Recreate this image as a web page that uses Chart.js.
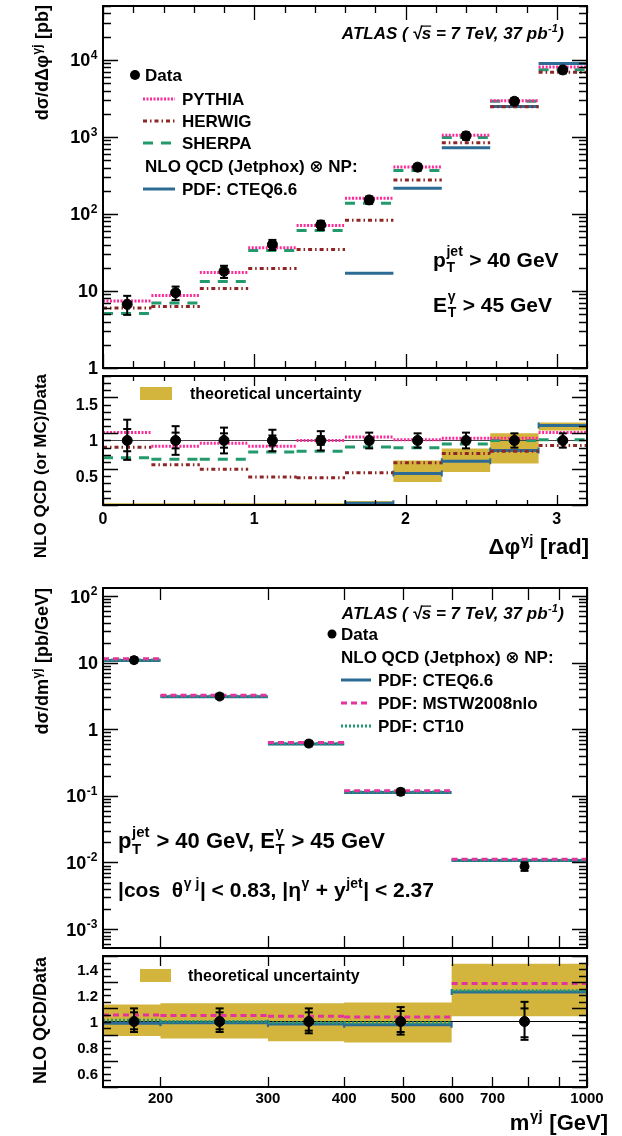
<!DOCTYPE html>
<html>
<head>
<meta charset="utf-8">
<script src="https://cdn.jsdelivr.net/npm/chart.js@4/dist/chart.umd.min.js"></script>
<style>
  html, body { margin: 0; padding: 0; background: #fff; }
  #page { position: relative; width: 622px; height: 1136px; overflow: hidden; }
  canvas { position: absolute; left: 0; }
</style>
</head>
<body>
<div id="page">
  <canvas id="phiMain" width="622" height="385" style="top:0px"></canvas>
  <canvas id="phiRatio" width="622" height="190" style="top:370px"></canvas>
  <canvas id="massMain" width="622" height="385" style="top:575px"></canvas>
  <canvas id="massRatio" width="622" height="186" style="top:950px"></canvas>
</div>
<script>
// ---------- Δφ(γ,jet) distribution ----------
var phiEdges   = [0, 0.32, 0.64, 0.96, 1.28, 1.60, 1.92, 2.24, 2.56, 2.88, 3.20];
var phiCenters = [0.16, 0.48, 0.80, 1.12, 1.44, 1.76, 2.08, 2.40, 2.72, 3.04];

// dσ/dΔφ [pb]
var phiData   = [6.7, 9.5, 18, 40, 72, 152, 405, 1030, 2900, 7400];
var phiPythia = [7.4, 8.7, 17.3, 36.5, 71, 160, 408, 1050, 2950, 8100];
var phiHerwig = [6.0, 6.3, 10.8, 19.6, 34.5, 83, 276, 840, 2470, 6900];
var phiSherpa = [5.1, 7.0, 13.3, 33.6, 61, 138, 365, 980, 2900, 7450];
var phiCteq   = [null, null, null, null, null, 17, 216, 725, 2480, 8950];

// ratios to data
var phiErrHi    = [1.29, 1.20, 1.18, 1.15, 1.13, 1.11, 1.10, 1.11, 1.10, 1.10];
var phiErrLo    = [0.73, 0.80, 0.82, 0.85, 0.86, 0.89, 0.90, 0.89, 0.90, 0.90];
var phiStatHi   = [1.16, 1.11, 1.10, 1.07, 1.06, 1.04, 1.03, 1.03, 1.02, 1.02];
var phiStatLo   = [0.85, 0.89, 0.90, 0.93, 0.94, 0.96, 0.97, 0.97, 0.98, 0.98];
var phiPythiaR  = [1.11, 0.92, 0.96, 0.92, 1.00, 1.05, 1.01, 1.03, 1.03, 1.11];
var phiHerwigR  = [0.905, 0.66, 0.60, 0.49, 0.48, 0.55, 0.69, 0.82, 0.85, 0.93];
var phiSherpaR  = [0.76, 0.74, 0.74, 0.84, 0.85, 0.91, 0.90, 0.95, 1.00, 1.01];
var phiCteqR    = [0, 0, 0, 0, 0, 0.125, 0.54, 0.71, 0.86, 1.21];
var phiBandLo   = [0, 0, 0, 0, 0, 0.10, 0.42, 0.56, 0.68, 1.14];
var phiBandHi   = [0.125, 0.125, 0.125, 0.125, 0.125, 0.155, 0.72, 0.89, 1.10, 1.25];

// ---------- m(γ,jet) distribution ----------
var massEdges   = [161, 200, 300, 400, 600, 1000];
var massCenters = [181, 250, 350, 495, 790];

// dσ/dm [pb/GeV]
var massData = [10.9, 3.1, 0.61, 0.115, 0.0087];
var massCteq = [10.8, 3.08, 0.60, 0.112, 0.0107];
var massMstw = [11.4, 3.25, 0.635, 0.119, 0.0112];
var massCt10 = [11.0, 3.12, 0.605, 0.114, 0.0108];

// ratios to data
var massErrHi  = [1.10, 1.10, 1.10, 1.11, 1.15];
var massErrLo  = [0.92, 0.92, 0.91, 0.90, 0.86];
var massStatHi = [1.07, 1.07, 1.07, 1.08, 1.10];
var massStatLo = [0.94, 0.94, 0.93, 0.92, 0.88];
var massCteqR  = [0.987, 0.99, 0.98, 0.975, 1.225];
var massMstwR  = [1.05, 1.045, 1.04, 1.035, 1.29];
var massCt10R  = [1.01, 1.0, 0.99, 0.99, 1.235];
var massBandLo = [0.89, 0.87, 0.85, 0.84, 1.04];
var massBandHi = [1.13, 1.14, 1.14, 1.145, 1.44];

// Colours
var colPythia = '#ff2a9a';
var colHerwig = '#8e2626';
var colSherpa = '#229a6c';
var colCteq   = '#2c6c94';
var colMstw   = '#e2349c';
var colCt10   = '#1f9a70';
var colBand   = '#d3b43c';

// ---------- helpers ----------

function binSegments(edges, vals) {
  var pts = [];
  vals.forEach(function (v, i) {
    if (v === null) return;
    pts.push({x: edges[i], y: v}, {x: edges[i + 1], y: v}, {x: edges[i + 1], y: null});
  });
  return pts;
}

function bandPoints(edges, vals) {
  var pts = [];
  vals.forEach(function (v, i) { pts.push({x: edges[i], y: v}, {x: edges[i + 1], y: v}); });
  return pts;
}

function errSegments(xs, lo, hi) {
  var pts = [];
  xs.forEach(function (x, i) { pts.push({x: x, y: lo[i]}, {x: x, y: hi[i]}, {x: x, y: null}); });
  return pts;
}

function capPoints(xs, lo, hi) {
  var pts = [];
  xs.forEach(function (x, i) { pts.push({x: x, y: lo[i]}, {x: x, y: hi[i]}); });
  return pts;
}

function scaled(vals, rel) {
  return vals.map(function (v, i) { return v * rel[i]; });
}

function stepLine(label, edges, vals, color, dash, order) {
  return {
    label: label, data: binSegments(edges, vals), showLine: true,
    borderColor: color, borderWidth: 3, borderDash: dash, pointRadius: 0, order: order
  };
}

function points(xs, vals, r) {
  return {
    label: 'Data', data: xs.map(function (x, i) { return {x: x, y: vals[i]}; }),
    showLine: false, pointRadius: r, pointStyle: 'circle',
    backgroundColor: '#000', borderColor: '#000', order: 0
  };
}

function errorBars(xs, lo, hi) {
  return {
    label: 'err', data: errSegments(xs, lo, hi), showLine: true,
    borderColor: '#000', borderWidth: 2, pointStyle: 'line', pointRadius: 4,
    pointBorderWidth: 2, pointBorderColor: '#000', order: 1
  };
}

function innerCaps(xs, lo, hi) {
  return {
    label: 'stat', data: capPoints(xs, lo, hi), showLine: false,
    pointStyle: 'line', pointRadius: 4, pointBorderWidth: 2, pointBorderColor: '#000', order: 1
  };
}

function band(edges, lo, hi) {
  return [
    {label: 'bandHi', data: bandPoints(edges, hi), showLine: true, borderWidth: 0,
     borderColor: 'rgba(0,0,0,0)', pointRadius: 0, backgroundColor: colBand, fill: '+1', order: 9},
    {label: 'bandLo', data: bandPoints(edges, lo), showLine: true, borderWidth: 0,
     borderColor: 'rgba(0,0,0,0)', pointRadius: 0, order: 9}
  ];
}

function unityLine(x0, x1, color) {
  return {label: 'one', data: [{x: x0, y: 1}, {x: x1, y: 1}], showLine: true,
          borderColor: color, borderWidth: 1.2, pointRadius: 0, order: 5};
}

function linTicks(lo, hi, step, every) {
  var major = [], minor = [];
  var n = Math.round((hi - lo) / step);
  for (var i = 0; i <= n; i++) {
    var v = +(lo + i * step).toFixed(4);
    if (i % every === 0) major.push(v); else minor.push(v);
  }
  return {major: major, minor: minor};
}

function logTicks(lo, hi) {
  var major = [], minor = [];
  for (var k = Math.floor(Math.log10(lo)); k <= Math.ceil(Math.log10(hi)); k++) {
    var d = Math.pow(10, k);
    if (d >= lo && d <= hi) major.push(d);
    for (var m = 2; m <= 9; m++) { if (m * d >= lo && m * d <= hi) minor.push(m * d); }
  }
  return {major: major, minor: minor};
}

// ---------- text ----------

function fontOf(size, italic) {
  return (italic ? 'italic ' : '') + 'bold ' + size + 'px "Liberation Sans", "DejaVu Sans", sans-serif';
}

function pieceWidth(ctx, s, size, italic) {
  if (typeof s === 'string') { ctx.font = fontOf(size, italic); return ctx.measureText(s).width; }
  if (s.ov) { ctx.font = fontOf(size, italic); return ctx.measureText(s.ov).width; }
  ctx.font = fontOf(Math.round(size * 0.66), italic);
  var a = s.sup ? ctx.measureText(s.sup).width : 0;
  var b = s.sub ? ctx.measureText(s.sub).width : 0;
  return Math.max(a, b) + size * 0.06;
}

function richWidth(ctx, segs, size, italic) {
  var w = 0;
  segs.forEach(function (s) { w += pieceWidth(ctx, s, size, italic); });
  return w;
}

// cy is the middle of the capitals
function drawRich(ctx, segs, x, cy, size, align, italic) {
  var w = richWidth(ctx, segs, size, italic);
  var cx = align === 'right' ? x - w : (align === 'center' ? x - w / 2 : x);
  var base = cy + size * 0.36;
  ctx.textAlign = 'left';
  ctx.textBaseline = 'alphabetic';
  ctx.fillStyle = '#000';
  segs.forEach(function (s) {
    var pw = pieceWidth(ctx, s, size, italic);
    if (typeof s === 'string') {
      ctx.font = fontOf(size, italic);
      ctx.fillText(s, cx, base);
    } else if (s.ov) {
      ctx.font = fontOf(size, italic);
      ctx.fillText(s.ov, cx, base);
      ctx.fillRect(cx - 1, base - size * 0.8, pw + 1, Math.max(1, size * 0.07));
    } else {
      var small = Math.round(size * 0.66);
      ctx.font = fontOf(small, italic);
      var both = s.sup && s.sub;
      if (s.sup) ctx.fillText(s.sup, cx + size * 0.03, base - size * (both ? 0.48 : 0.42));
      if (s.sub) ctx.fillText(s.sub, cx + size * 0.03, base + size * 0.26);
    }
    cx += pw;
  });
}

function drawRotated(ctx, segs, cx, yTop, size) {
  ctx.save();
  ctx.translate(cx, yTop);
  ctx.rotate(-Math.PI / 2);
  drawRich(ctx, segs, 0, 0, size, 'right', false);
  ctx.restore();
}

// ---------- frame, ticks, labels, legend ----------

var decorById = {};

var rootFrame = {
  id: 'rootFrame',
  afterDatasetsDraw: function (chart) {
    var d = decorById[chart.canvas.id];
    if (!d) return;
    var ctx = chart.ctx, a = chart.chartArea, xs = chart.scales.x, ys = chart.scales.y;
    var off = d.top;
    ctx.save();
    ctx.strokeStyle = '#000';
    ctx.lineWidth = 1.3;
    ctx.beginPath();
    function xt(vals, len) {
      vals.forEach(function (v) {
        var px = Math.round(xs.getPixelForValue(v)) + 0.5;
        ctx.moveTo(px, a.bottom); ctx.lineTo(px, a.bottom - len);
        ctx.moveTo(px, a.top); ctx.lineTo(px, a.top + len);
      });
    }
    function yt(vals, len) {
      vals.forEach(function (v) {
        var py = Math.round(ys.getPixelForValue(v)) + 0.5;
        ctx.moveTo(a.left, py); ctx.lineTo(a.left + len, py);
        ctx.moveTo(a.right, py); ctx.lineTo(a.right - len, py);
      });
    }
    xt(d.xTicks.major, d.xLen[0]); xt(d.xTicks.minor, d.xLen[1]);
    yt(d.yTicks.major, d.yLen[0]); yt(d.yTicks.minor, d.yLen[1]);
    ctx.stroke();
    ctx.lineWidth = 2;
    ctx.strokeRect(a.left, a.top, a.right - a.left, a.bottom - a.top);

    d.yLabels.forEach(function (l) {
      drawRich(ctx, l.segs, a.left - 5, ys.getPixelForValue(l.v), d.yLabelSize, 'right', false);
    });
    (d.xLabels || []).forEach(function (l) {
      drawRich(ctx, l.segs, xs.getPixelForValue(l.v), a.bottom + d.xLabelGap, d.xLabelSize, 'center', false);
    });

    (d.legend || []).forEach(function (e) {
      if (e.dot) {
        ctx.beginPath();
        ctx.fillStyle = '#000';
        ctx.arc(e.dot[0], e.dot[1] - off, e.dot[2], 0, 2 * Math.PI);
        ctx.fill();
      }
      if (e.line) {
        var ds = chart.data.datasets.filter(function (s) { return s.label === e.line; })[0];
        ctx.save();
        ctx.strokeStyle = ds.borderColor;
        ctx.lineWidth = ds.borderWidth;
        ctx.setLineDash(ds.borderDash || []);
        ctx.beginPath();
        ctx.moveTo(e.x1, e.y - off); ctx.lineTo(e.x2, e.y - off);
        ctx.stroke();
        ctx.restore();
      }
      if (e.box) {
        ctx.fillStyle = colBand;
        ctx.fillRect(e.box[0], e.box[1] - off, e.box[2] - e.box[0], e.box[3] - e.box[1]);
      }
      drawRich(ctx, e.segs, e.tx, e.y - off, e.size, 'left', false);
    });

    (d.texts || []).forEach(function (t) {
      if (t.rot) drawRotated(ctx, t.segs, t.x, t.y - off, t.size);
      else drawRich(ctx, t.segs, t.x, t.y - off, t.size, t.align || 'left', t.italic);
    });
    ctx.restore();
  }
};

function makePanel(id, xScale, yScale, datasets, pad) {
  return new Chart(document.getElementById(id), {
    type: 'scatter',
    data: {datasets: datasets},
    options: {
      responsive: false,
      animation: false,
      events: [],
      layout: {padding: pad},
      scales: {
        x: Object.assign({display: false}, xScale),
        y: Object.assign({display: false}, yScale)
      },
      plugins: {legend: {display: false}, tooltip: {enabled: false}}
    },
    plugins: [rootFrame]
  });
}

var atlasLabel = ['ATLAS ( ', '\u221A', {ov: 's'}, ' = 7 TeV, 37 pb', {sup: '-1'}, ')'];

function pow10Label(k) {
  if (k === 0) return ['1'];
  if (k === 1) return ['10'];
  return ['10', {sup: String(k)}];
}

// ---------- Δφ: cross section ----------
decorById.phiMain = {
  top: 0,
  xTicks: linTicks(0, 3.2, 0.2, 5), xLen: [14, 7],
  yTicks: logTicks(1, 5e4), yLen: [15, 8],
  yLabelSize: 18,
  yLabels: [0, 1, 2, 3, 4].map(function (k) { return {v: Math.pow(10, k), segs: pow10Label(k)}; }),
  legend: [
    {dot: [135, 75, 5], tx: 145, y: 75, size: 17, segs: ['Data']},
    {line: 'PYTHIA', x1: 143, x2: 175, tx: 182, y: 99, size: 17, segs: ['PYTHIA']},
    {line: 'HERWIG', x1: 143, x2: 175, tx: 182, y: 121, size: 17, segs: ['HERWIG']},
    {line: 'SHERPA', x1: 143, x2: 175, tx: 182, y: 143, size: 17, segs: ['SHERPA']},
    {tx: 145, y: 166, size: 17, segs: ['NLO QCD (Jetphox) \u2297 NP:']},
    {line: 'CTEQ6.6', x1: 143, x2: 175, tx: 182, y: 189, size: 17, segs: ['PDF: CTEQ6.6']}
  ],
  texts: [
    {x: 564, y: 33, size: 17, align: 'right', italic: true, segs: atlasLabel},
    {x: 433, y: 259, size: 21, segs: ['p', {sup: 'jet', sub: 'T'}, ' > 40 GeV']},
    {x: 433, y: 304, size: 21, segs: ['E', {sup: '\u03B3', sub: 'T'}, ' > 45 GeV']},
    {rot: true, x: 42, y: 5, size: 18, segs: ['d\u03C3/d\u0394\u03C6', {sup: '\u03B3j'}, ' [pb]']}
  ]
};

makePanel('phiMain',
  {type: 'linear', min: 0, max: 3.2},
  {type: 'logarithmic', min: 1, max: 5e4},
  [
    points(phiCenters, phiData, 5),
    errorBars(phiCenters, scaled(phiData, phiErrLo), scaled(phiData, phiErrHi)),
    stepLine('PYTHIA', phiEdges, phiPythia, colPythia, [2, 1.5], 2),
    stepLine('HERWIG', phiEdges, phiHerwig, colHerwig, [4, 3, 1.5, 3], 3),
    stepLine('SHERPA', phiEdges, phiSherpa, colSherpa, [10, 8], 3),
    stepLine('CTEQ6.6', phiEdges, phiCteq, colCteq, [], 4)
  ],
  {top: 5, left: 103, right: 35, bottom: 17});

// ---------- Δφ: ratio ----------
decorById.phiRatio = {
  top: 370,
  xTicks: linTicks(0, 3.2, 0.2, 5), xLen: [10, 5],
  yTicks: linTicks(0.1, 1.9, 0.1, 5), yLen: [15, 8],
  yLabelSize: 16,
  yLabels: [{v: 0.5, segs: ['0.5']}, {v: 1, segs: ['1']}, {v: 1.5, segs: ['1.5']}],
  xLabelSize: 16, xLabelGap: 13,
  xLabels: [0, 1, 2, 3].map(function (v) { return {v: v, segs: [String(v)]}; }),
  legend: [
    {box: [140, 387, 172, 400], tx: 190, y: 393, size: 16, segs: ['theoretical uncertainty']}
  ],
  texts: [
    {rot: true, x: 40, y: 374, size: 17, segs: ['NLO QCD (or MC)/Data']},
    {x: 589, y: 546, size: 22, align: 'right', segs: ['\u0394\u03C6', {sup: '\u03B3j'}, ' [rad]']}
  ]
};

var phiRatioCteq = stepLine('CTEQ6.6', phiEdges, phiCteqR, colCteq, [], 4);
phiRatioCteq.pointStyle = 'line';
phiRatioCteq.pointRotation = 90;
phiRatioCteq.pointRadius = 3;
phiRatioCteq.pointBorderWidth = 2;
phiRatioCteq.pointBorderColor = colCteq;

makePanel('phiRatio',
  {type: 'linear', min: 0, max: 3.2},
  {type: 'linear', min: 0.1, max: 1.9},
  [
    points(phiCenters, phiErrHi.map(function () { return 1; }), 5),
    errorBars(phiCenters, phiErrLo, phiErrHi),
    innerCaps(phiCenters, phiStatLo, phiStatHi),
    stepLine('PYTHIA', phiEdges, phiPythiaR, colPythia, [2, 1.5], 2),
    stepLine('HERWIG', phiEdges, phiHerwigR, colHerwig, [4, 3, 1.5, 3], 3),
    stepLine('SHERPA', phiEdges, phiSherpaR, colSherpa, [10, 8], 3),
    phiRatioCteq,
    unityLine(0, 3.2, '#444')
  ].concat(band(phiEdges, phiBandLo, phiBandHi)),
  {top: 3, left: 103, right: 35, bottom: 55});

// ---------- m(γ,jet): cross section ----------
var massTickVals = [200, 300, 400, 500, 600, 700, 800, 900, 1000];

decorById.massMain = {
  top: 575,
  xTicks: {major: massTickVals, minor: []}, xLen: [12, 6],
  yTicks: logTicks(5.2e-4, 132), yLen: [15, 8],
  yLabelSize: 18,
  yLabels: [-3, -2, -1, 0, 1, 2].map(function (k) { return {v: Math.pow(10, k), segs: pow10Label(k)}; }),
  legend: [
    {dot: [332, 634, 4.5], tx: 341, y: 634, size: 17, segs: ['Data']},
    {tx: 341, y: 657, size: 17, segs: ['NLO QCD (Jetphox) \u2297 NP:']},
    {line: 'CTEQ6.6', x1: 341, x2: 371, tx: 378, y: 680, size: 17, segs: ['PDF: CTEQ6.6']},
    {line: 'MSTW2008nlo', x1: 341, x2: 371, tx: 378, y: 703, size: 17, segs: ['PDF: MSTW2008nlo']},
    {line: 'CT10', x1: 341, x2: 371, tx: 378, y: 726, size: 17, segs: ['PDF: CT10']}
  ],
  texts: [
    {x: 564, y: 613, size: 17, align: 'right', italic: true, segs: atlasLabel},
    {x: 118, y: 840, size: 22, segs: ['p', {sup: 'jet', sub: 'T'}, ' > 40 GeV, E', {sup: '\u03B3', sub: 'T'}, ' > 45 GeV']},
    {x: 118, y: 889, size: 21, segs: ['|cos  \u03B8', {sup: '\u03B3 j'}, '| < 0.83, |\u03B7', {sup: '\u03B3'}, ' + y', {sup: 'jet'}, '| < 2.37']},
    {rot: true, x: 42, y: 588, size: 18, segs: ['d\u03C3/dm', {sup: '\u03B3j'}, ' [pb/GeV]']}
  ]
};

makePanel('massMain',
  {type: 'logarithmic', min: 161, max: 1000},
  {type: 'logarithmic', min: 5.2e-4, max: 132},
  [
    points(massCenters, massData, 4.5),
    errorBars(massCenters, scaled(massData, massErrLo), scaled(massData, massErrHi)),
    stepLine('MSTW2008nlo', massEdges, massMstw, colMstw, [6, 4], 2),
    stepLine('CT10', massEdges, massCt10, colCt10, [2, 2], 3),
    stepLine('CTEQ6.6', massEdges, massCteq, colCteq, [], 4)
  ],
  {top: 13, left: 103, right: 35, bottom: 12});

// ---------- m(γ,jet): ratio ----------
decorById.massRatio = {
  top: 950,
  xTicks: {major: massTickVals, minor: []}, xLen: [10, 5],
  yTicks: linTicks(0.5, 1.5, 0.05, 4), yLen: [15, 8],
  yLabelSize: 15,
  yLabels: [0.6, 0.8, 1, 1.2, 1.4].map(function (v) { return {v: v, segs: [String(v)]}; }),
  xLabelSize: 15, xLabelGap: 11,
  xLabels: [200, 300, 400, 500, 600, 700, 1000].map(function (v) { return {v: v, segs: [String(v)]}; }),
  legend: [
    {box: [140, 969, 171, 982], tx: 188, y: 975, size: 16, segs: ['theoretical uncertainty']}
  ],
  texts: [
    {rot: true, x: 40, y: 957, size: 18, segs: ['NLO QCD/Data']},
    {x: 608, y: 1122, size: 22, align: 'right', segs: ['m', {sup: '\u03B3j'}, ' [GeV]']}
  ]
};

var massRatioCteq = stepLine('CTEQ6.6', massEdges, massCteqR, colCteq, [], 4);
massRatioCteq.pointStyle = 'line';
massRatioCteq.pointRotation = 90;
massRatioCteq.pointRadius = 3;
massRatioCteq.pointBorderWidth = 2;
massRatioCteq.pointBorderColor = colCteq;

makePanel('massRatio',
  {type: 'logarithmic', min: 161, max: 1000},
  {type: 'linear', min: 0.5, max: 1.5},
  [
    points(massCenters, massErrHi.map(function () { return 1; }), 5),
    errorBars(massCenters, massErrLo, massErrHi),
    innerCaps(massCenters, massStatLo, massStatHi),
    stepLine('MSTW2008nlo', massEdges, massMstwR, colMstw, [6, 4], 2),
    stepLine('CT10', massEdges, massCt10R, colCt10, [2, 2], 3),
    massRatioCteq,
    unityLine(161, 1000, '#000')
  ].concat(band(massEdges, massBandLo, massBandHi)),
  {top: 5, left: 103, right: 35, bottom: 49});
</script>
</body>
</html>
